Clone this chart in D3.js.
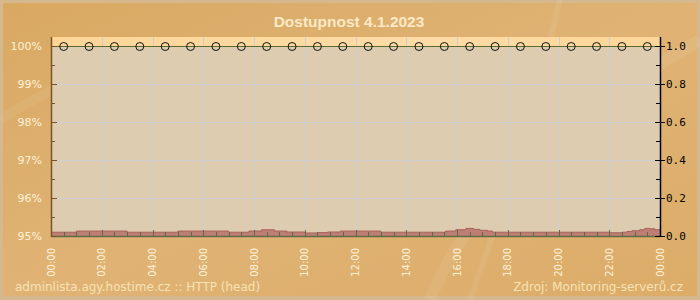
<!DOCTYPE html>
<html>
<head>
<meta charset="utf-8">
<script src="https://cdn.jsdelivr.net/npm/d3@7"></script>
<style>
  body { margin: 0; background: #d9b27a; }
  svg { display: block; }
</style>
</head>
<body>
<svg width="700" height="300"></svg>
<script>
// chart values
const title = 'Dostupnost 4.1.2023'
const footerLeft = 'adminlista.agy.hostime.cz :: HTTP (head)'
const footerRight = 'Zdroj: Monitoring-serverů.cz'
const availHours = [0.5, 1.5, 2.5, 3.5, 4.5, 5.5, 6.5, 7.5, 8.5, 9.5, 10.5, 11.5,
  12.5, 13.5, 14.5, 15.5, 16.5, 17.5, 18.5, 19.5, 20.5, 21.5, 22.5, 23.5]
const availValues = [100, 100, 100, 100, 100, 100, 100, 100, 100, 100, 100, 100,
  100, 100, 100, 100, 100, 100, 100, 100, 100, 100, 100, 100]
// response time (right axis), step breakpoints [hour, value]
const respHours = [0, 1, 3, 5, 7, 7.8, 8.3, 8.8, 9.3, 10, 10.5, 10.9, 11.4, 13, 15.55, 15.95,
  16.35, 16.65, 16.9, 17.2, 17.4, 22, 22.5, 22.7, 22.9, 23.2, 23.4, 23.6, 23.8, 24]
const respValues = [0.02, 0.026, 0.02, 0.026, 0.02, 0.026, 0.033, 0.026, 0.021, 0.016, 0.018, 0.021, 0.026, 0.02, 0.026, 0.033,
  0.04, 0.035, 0.03, 0.026, 0.02, 0.017, 0.02, 0.024, 0.028, 0.033, 0.04, 0.038, 0.033, 0.033]
const xTickLabels = ['00:00', '02:00', '04:00', '06:00', '08:00', '10:00', '12:00',
  '14:00', '16:00', '18:00', '20:00', '22:00', '00:00']
const leftTicks = [95, 96, 97, 98, 99, 100]
const rightTicks = [0, 0.2, 0.4, 0.6, 0.8, 1.0]

const svg = d3.select('svg')
const W = 700, H = 300
const plot = { left: 51, right: 660, top: 37, bottom: 236 }

const x = d3.scaleLinear().domain([0, 24]).range([plot.left, plot.right])
const yL = d3.scaleLinear().domain([95, 100]).range([plot.bottom, 46])
const yR = d3.scaleLinear().domain([0, 1]).range([plot.bottom, 46])

const defs = svg.append('defs')
const bg = defs.append('linearGradient').attr('id', 'bg').attr('x1', 0).attr('y1', 0).attr('x2', 1).attr('y2', 1)
bg.append('stop').attr('offset', 0).attr('stop-color', '#d9a962')
bg.append('stop').attr('offset', 0.5).attr('stop-color', '#e0b375')
bg.append('stop').attr('offset', 1).attr('stop-color', '#dcac68')
const band = defs.append('linearGradient').attr('id', 'band').attr('x1', 0).attr('x2', 1)
band.append('stop').attr('offset', 0).attr('stop-color', '#fdd597')
band.append('stop').attr('offset', 0.6).attr('stop-color', '#ffdca6')
band.append('stop').attr('offset', 1).attr('stop-color', '#fdd597')

// background + frame
svg.append('rect').attr('width', W).attr('height', H).attr('fill', '#d6b88e')
svg.append('rect').attr('x', 3).attr('y', 3).attr('width', W - 6).attr('height', H - 7).attr('fill', 'url(#bg)')

// faint swirls
const swirl = svg.append('g').attr('fill', 'none').attr('stroke', '#fff').attr('stroke-opacity', 0.07)
swirl.append('path').attr('d', 'M430,300 C470,200 560,120 700,40').attr('stroke-width', 12)
swirl.append('path').attr('d', 'M560,0 C540,80 520,160 470,300').attr('stroke-width', 6)
swirl.append('path').attr('d', 'M0,120 C60,80 120,60 200,40').attr('stroke-width', 10).attr('stroke-opacity', 0.05)

// title
svg.append('text').attr('x', 349).attr('y', 27).attr('text-anchor', 'middle')
  .attr('font-family', 'Liberation Sans, Arial, sans-serif').attr('font-weight', 'bold')
  .attr('font-size', 15.5).attr('fill', '#fbe9c6').text(title)

// plot background
svg.append('rect').attr('x', plot.left).attr('y', plot.top).attr('width', plot.right - plot.left)
  .attr('height', plot.bottom - plot.top).attr('fill', '#ddccb0')
svg.append('rect').attr('x', plot.left).attr('y', plot.top).attr('width', plot.right - plot.left)
  .attr('height', yL(100) - plot.top).attr('fill', 'url(#band)')

// grid
const grid = svg.append('g').attr('stroke', '#cdcdd2').attr('stroke-width', 1)
leftTicks.filter(d => d > 95 && d < 100).forEach(d => {
  grid.append('line').attr('x1', plot.left).attr('x2', plot.right)
    .attr('y1', Math.round(yL(d)) + 0.5).attr('y2', Math.round(yL(d)) + 0.5)
})
d3.range(2, 24, 2).forEach(h => {
  grid.append('line').attr('x1', Math.round(x(h)) + 0.5).attr('x2', Math.round(x(h)) + 0.5)
    .attr('y1', plot.top).attr('y2', plot.bottom)
})

// response time area
const resp = respHours.map((h, i) => [h, respValues[i]])
const area = d3.area().x(d => x(d[0])).y0(plot.bottom).y1(d => yR(d[1])).curve(d3.curveStepAfter)
const line = d3.line().x(d => x(d[0])).y(d => yR(d[1])).curve(d3.curveStepAfter)
svg.append('path').datum(resp).attr('d', area).attr('fill', '#bd7e73')
svg.append('path').datum(resp).attr('d', line).attr('fill', 'none').attr('stroke', '#a8625a').attr('stroke-width', 1)

// bottom baseline + ticks
const base = svg.append('g').attr('stroke', '#5f6b44')
base.append('line').attr('x1', plot.left).attr('x2', plot.right)
  .attr('y1', plot.bottom + 0.5).attr('y2', plot.bottom + 0.5).attr('stroke-width', 1.5)
d3.range(0, 24.01, 0.5).forEach(h => {
  const major = h % 2 === 0
  base.append('line').attr('x1', Math.round(x(h)) + 0.5).attr('x2', Math.round(x(h)) + 0.5)
    .attr('y1', plot.bottom).attr('y2', plot.bottom - (major ? 6 : 4))
})

// availability line + markers
const avail = availHours.map((h, i) => [h, availValues[i]])
svg.append('line').attr('x1', plot.left).attr('x2', plot.right)
  .attr('y1', yL(100) + 0.5).attr('y2', yL(100) + 0.5).attr('stroke', '#5e6a2c').attr('stroke-width', 1.2)
svg.append('g').selectAll('circle').data(avail).join('circle')
  .attr('cx', d => x(d[0])).attr('cy', d => yL(d[1]) + 0.5).attr('r', 4)
  .attr('fill', 'none').attr('stroke', '#111').attr('stroke-width', 1)

// left axis
const la = svg.append('g')
la.append('line').attr('x1', plot.left + 0.5).attr('x2', plot.left + 0.5)
  .attr('y1', plot.top).attr('y2', plot.bottom + 1).attr('stroke', '#7a5424').attr('stroke-width', 1.5)
d3.range(95, 100.01, 0.5).forEach(v => {
  const major = v % 1 === 0
  la.append('line').attr('x1', plot.left).attr('x2', plot.left + (major ? 6 : 4))
    .attr('y1', Math.round(yL(v)) + 0.5).attr('y2', Math.round(yL(v)) + 0.5)
    .attr('stroke', '#7a5424').attr('stroke-width', 1)
})
la.selectAll('text').data(leftTicks).join('text')
  .attr('x', 42).attr('y', d => yL(d)).attr('dy', '0.35em').attr('text-anchor', 'end')
  .attr('font-family', 'DejaVu Sans, sans-serif').attr('font-size', 11).attr('fill', '#fdf1d6')
  .text(d => d + '%')

// right axis
const ra = svg.append('g')
ra.append('line').attr('x1', plot.right + 0.5).attr('x2', plot.right + 0.5)
  .attr('y1', plot.top).attr('y2', plot.bottom + 1).attr('stroke', '#000').attr('stroke-width', 1.5)
d3.range(0, 1.001, 0.1).forEach((v, i) => {
  const major = i % 2 === 0
  ra.append('line').attr('x1', plot.right - (major ? 5 : 4)).attr('x2', plot.right + (major ? 5 : 0))
    .attr('y1', Math.round(yR(v)) + 0.5).attr('y2', Math.round(yR(v)) + 0.5)
    .attr('stroke', '#000').attr('stroke-width', 1)
})
ra.selectAll('text').data(rightTicks).join('text')
  .attr('x', 666).attr('y', d => yR(d)).attr('dy', '0.35em')
  .attr('font-family', 'DejaVu Sans Mono, monospace').attr('font-size', 11).attr('fill', '#000')
  .text(d => d.toFixed(1))

// x labels (rotated)
svg.append('g').selectAll('text').data(xTickLabels).join('text')
  .attr('transform', (d, i) => `translate(${x(i * 2)},248) rotate(-90)`)
  .attr('dy', '0.35em').attr('text-anchor', 'end')
  .attr('font-family', 'DejaVu Sans, sans-serif').attr('font-size', 10).attr('fill', '#fdf1d6')
  .text(d => d)

// footer
svg.append('text').attr('x', 15).attr('y', 291)
  .attr('font-family', 'DejaVu Sans, sans-serif').attr('font-size', 12).attr('fill', '#f7e2b6')
  .text(footerLeft)
svg.append('text').attr('x', 683).attr('y', 291).attr('text-anchor', 'end')
  .attr('font-family', 'DejaVu Sans, sans-serif').attr('font-size', 12).attr('fill', '#f7e2b6')
  .text(footerRight)
</script>
</body>
</html>
